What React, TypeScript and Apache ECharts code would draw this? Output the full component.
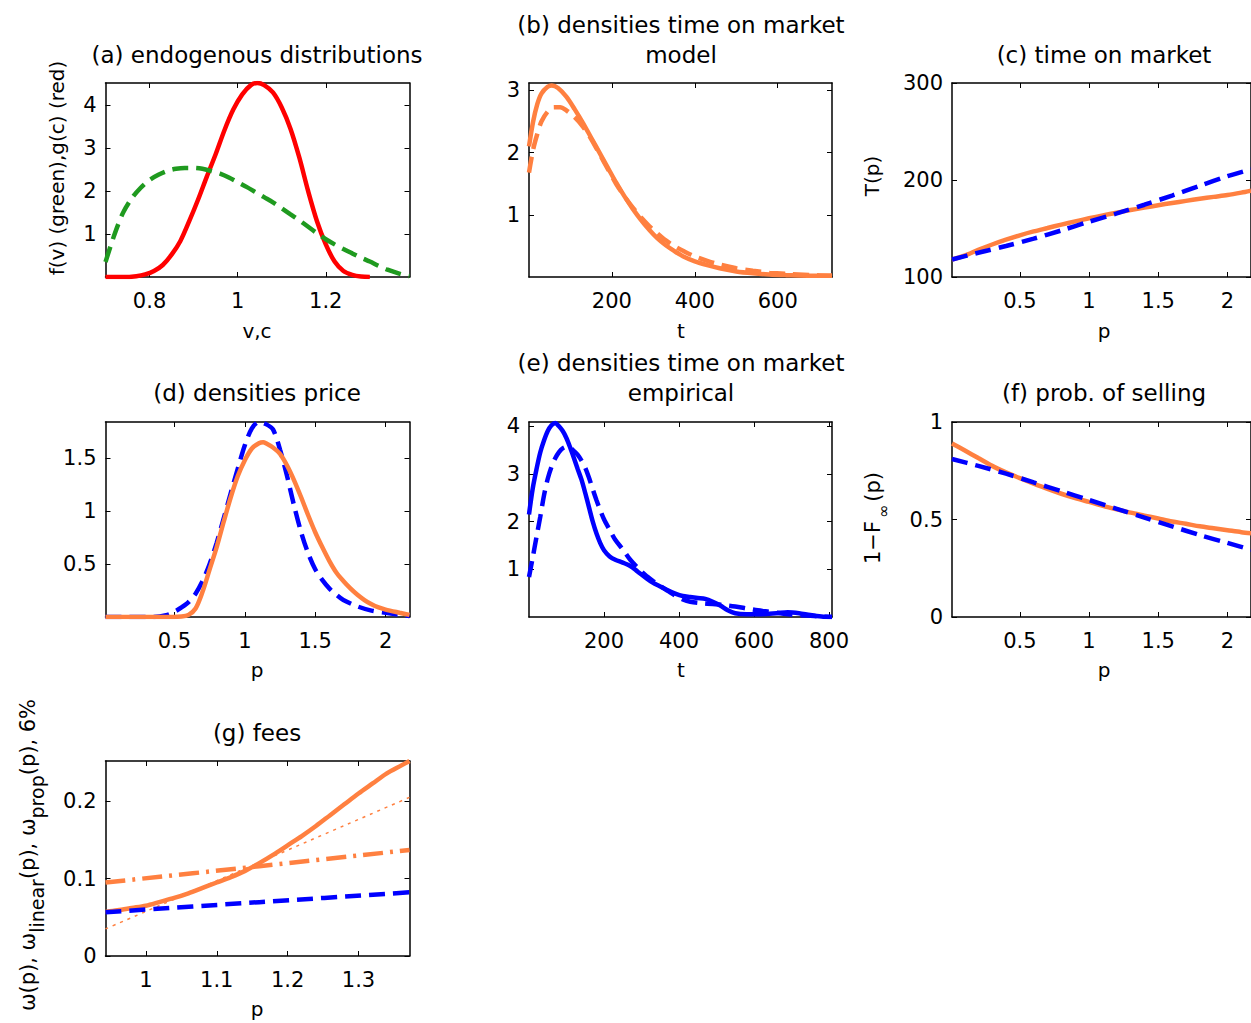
import React, { useEffect, useRef } from "react";
import * as echarts from "echarts";

// ---------------- data ----------------
// (a) endogenous distributions
const aRed: number[][] = [
  [0.70, 0], [0.74, 0], [0.77, 0.02], [0.79, 0.06], [0.81, 0.14], [0.83, 0.28], [0.85, 0.52],
  [0.87, 0.84], [0.89, 1.3], [0.91, 1.8], [0.93, 2.34], [0.95, 2.86], [0.97, 3.42], [0.99, 3.9],
  [1.01, 4.25], [1.03, 4.47], [1.045, 4.52], [1.06, 4.47], [1.08, 4.3], [1.10, 3.95],
  [1.12, 3.45], [1.14, 2.78], [1.16, 2.0], [1.18, 1.3], [1.20, 0.76], [1.22, 0.36],
  [1.24, 0.14], [1.26, 0.05], [1.28, 0.01], [1.30, 0],
];
const aGreen: number[][] = [
  [0.70, 0.35], [0.72, 0.98], [0.74, 1.5], [0.76, 1.84], [0.78, 2.08], [0.80, 2.26], [0.82, 2.38],
  [0.84, 2.47], [0.86, 2.52], [0.88, 2.54], [0.90, 2.54], [0.92, 2.52], [0.94, 2.47], [0.96, 2.41],
  [0.98, 2.32], [1.00, 2.21], [1.02, 2.1], [1.04, 1.98], [1.06, 1.86], [1.08, 1.74], [1.10, 1.6],
  [1.12, 1.46], [1.14, 1.32], [1.16, 1.17], [1.18, 1.02], [1.20, 0.88], [1.22, 0.76], [1.24, 0.65],
  [1.26, 0.55], [1.28, 0.45], [1.30, 0.36], [1.32, 0.26], [1.34, 0.17], [1.36, 0.1], [1.38, 0.04],
  [1.39, 0.02],
];
// (b) densities time on market, model
const bSolid: number[][] = [
  [0, 2.1], [10, 2.5], [20, 2.78], [30, 2.95], [45, 3.06], [55, 3.08], [70, 3.04], [90, 2.9],
  [110, 2.7], [130, 2.48], [150, 2.24], [170, 2.0], [190, 1.76], [210, 1.52], [230, 1.3],
  [250, 1.1], [270, 0.92], [290, 0.76], [310, 0.62], [330, 0.51], [350, 0.42], [375, 0.32],
  [400, 0.25], [430, 0.19], [460, 0.14], [500, 0.09], [540, 0.06], [580, 0.04], [620, 0.03],
  [680, 0.02], [731, 0.02],
];
const bDashed: number[][] = [
  [0, 1.68], [10, 2.05], [20, 2.3], [30, 2.5], [45, 2.66], [60, 2.73], [75, 2.73], [90, 2.68],
  [110, 2.57], [130, 2.42], [150, 2.22], [170, 1.98], [190, 1.74], [210, 1.5], [230, 1.3],
  [250, 1.12], [270, 0.96], [290, 0.82], [310, 0.7], [330, 0.59], [350, 0.5], [375, 0.41],
  [400, 0.33], [430, 0.26], [460, 0.2], [500, 0.14], [540, 0.1], [580, 0.07], [620, 0.05],
  [680, 0.03], [731, 0.02],
];
// (c) time on market
const cSolid: number[][] = [
  [0.01, 118], [0.1, 122], [0.2, 128], [0.3, 133.5], [0.4, 138.5], [0.5, 143], [0.6, 147],
  [0.7, 150.5], [0.8, 154], [0.9, 157.3], [1.0, 160.5], [1.1, 163.5], [1.2, 166.3], [1.3, 169],
  [1.4, 171.5], [1.5, 174], [1.6, 176.3], [1.7, 178.5], [1.8, 180.6], [1.9, 182.6], [2.0, 184.5],
  [2.1, 187], [2.17, 189],
];
const cDashed: number[][] = [
  [0.01, 118], [0.2, 125], [0.4, 132], [0.6, 139.5], [0.8, 148], [1.0, 157], [1.2, 165.5],
  [1.4, 174.5], [1.6, 184], [1.8, 194], [2.0, 204], [2.17, 211],
];
// (d) densities price
const dOrange: number[][] = [
  [0.01, 0], [0.4, 0], [0.55, 0.005], [0.6, 0.02], [0.65, 0.08], [0.7, 0.24], [0.75, 0.45],
  [0.8, 0.66], [0.85, 0.9], [0.9, 1.13], [0.95, 1.33], [1.0, 1.48], [1.05, 1.59], [1.1, 1.64],
  [1.13, 1.65], [1.15, 1.64], [1.2, 1.6], [1.25, 1.54], [1.3, 1.43], [1.35, 1.29], [1.4, 1.13],
  [1.45, 0.96], [1.5, 0.8], [1.55, 0.66], [1.6, 0.53], [1.65, 0.42], [1.7, 0.34], [1.75, 0.27],
  [1.8, 0.21], [1.85, 0.16], [1.9, 0.12], [1.95, 0.09], [2.0, 0.07], [2.1, 0.04], [2.17, 0.02],
];
const dBlue: number[][] = [
  [0.01, 0], [0.35, 0], [0.45, 0.02], [0.5, 0.05], [0.55, 0.09], [0.6, 0.14], [0.65, 0.22],
  [0.7, 0.34], [0.75, 0.5], [0.8, 0.7], [0.85, 0.93], [0.9, 1.17], [0.95, 1.4], [1.0, 1.62],
  [1.05, 1.78], [1.1, 1.84], [1.15, 1.82], [1.2, 1.77], [1.25, 1.58], [1.3, 1.33], [1.35, 1.05],
  [1.4, 0.8], [1.45, 0.6], [1.5, 0.45], [1.55, 0.35], [1.6, 0.27], [1.65, 0.21], [1.7, 0.16],
  [1.8, 0.1], [1.9, 0.06], [2.0, 0.04], [2.1, 0.02], [2.17, 0.01],
];
// (e) densities time on market, empirical
const eSolid: number[][] = [
  [0, 2.15], [10, 2.7], [20, 3.1], [30, 3.45], [40, 3.7], [50, 3.9], [60, 4.02], [70, 4.07],
  [80, 4.0], [90, 3.9], [100, 3.75], [110, 3.55], [120, 3.33], [130, 3.1], [140, 2.88],
  [150, 2.6], [160, 2.3], [170, 2.0], [180, 1.75], [190, 1.55], [200, 1.4], [215, 1.27],
  [230, 1.2], [250, 1.14], [270, 1.07], [290, 0.95], [310, 0.83], [330, 0.72], [350, 0.64],
  [370, 0.56], [390, 0.49], [410, 0.44], [430, 0.42], [450, 0.4], [470, 0.38], [490, 0.32],
  [510, 0.24], [530, 0.14], [550, 0.08], [580, 0.06], [620, 0.06], [660, 0.08], [690, 0.1],
  [720, 0.08], [750, 0.04], [780, 0.01], [808, 0],
];
const eDashed: number[][] = [
  [0, 0.84], [10, 1.25], [20, 1.68], [30, 2.1], [40, 2.55], [50, 2.9], [60, 3.15], [70, 3.33],
  [80, 3.46], [90, 3.54], [100, 3.57], [110, 3.55], [120, 3.48], [130, 3.4], [140, 3.28],
  [150, 3.13], [160, 2.92], [170, 2.68], [180, 2.45], [190, 2.24], [200, 2.05], [215, 1.83],
  [230, 1.62], [250, 1.42], [270, 1.2], [290, 1.03], [310, 0.88], [330, 0.76], [350, 0.65],
  [370, 0.55], [390, 0.45], [410, 0.37], [430, 0.32], [460, 0.29], [490, 0.27], [520, 0.25],
  [550, 0.22], [580, 0.18], [610, 0.14], [640, 0.11], [670, 0.08], [700, 0.05], [740, 0.03],
  [780, 0.01], [808, 0],
];
// (f) prob. of selling
const fSolid: number[][] = [
  [0.01, 0.89], [0.1, 0.855], [0.2, 0.815], [0.3, 0.775], [0.4, 0.742], [0.5, 0.712], [0.6, 0.684],
  [0.7, 0.657], [0.8, 0.632], [0.9, 0.61], [1.0, 0.59], [1.1, 0.57], [1.2, 0.552], [1.3, 0.535],
  [1.4, 0.52], [1.5, 0.505], [1.6, 0.49], [1.7, 0.478], [1.8, 0.465], [1.9, 0.455], [2.0, 0.445],
  [2.1, 0.435], [2.17, 0.43],
];
const fDashed: number[][] = [
  [0.01, 0.81], [0.2, 0.775], [0.4, 0.735], [0.6, 0.69], [0.8, 0.645], [1.0, 0.6], [1.2, 0.555],
  [1.4, 0.51], [1.6, 0.465], [1.8, 0.42], [2.0, 0.38], [2.17, 0.345],
];
// (g) fees
const gOmega: number[][] = [
  [0.943, 0.057], [0.96, 0.059], [0.98, 0.062], [1.0, 0.065], [1.02, 0.07], [1.04, 0.075],
  [1.06, 0.081], [1.08, 0.088], [1.1, 0.095], [1.12, 0.102], [1.14, 0.11], [1.16, 0.12],
  [1.18, 0.131], [1.2, 0.143], [1.22, 0.155], [1.24, 0.168], [1.26, 0.182], [1.28, 0.196],
  [1.3, 0.21], [1.32, 0.223], [1.34, 0.236], [1.36, 0.246], [1.372, 0.252],
];
const gLinear: number[][] = [[0.943, 0.095], [1.16, 0.116], [1.372, 0.137]];
const gProp: number[][] = [[0.943, 0.035], [1.16, 0.121], [1.372, 0.205]];
const gSixPct: number[][] = [[0.943, 0.0566], [1.16, 0.0696], [1.372, 0.0823]];

// axis ranges and ticks
const aX = [0.7, 1.39], aY = [0, 4.52], aXT = [0.8, 1, 1.2], aYT = [1, 2, 3, 4];
const bX = [0, 731], bY = [0, 3.12], bXT = [200, 400, 600], bYT = [1, 2, 3];
const cX = [0.01, 2.17], cY = [100, 300], cXT = [0.5, 1, 1.5, 2], cYT = [100, 200, 300];
const dX = [0.01, 2.17], dY = [0, 1.84], dXT = [0.5, 1, 1.5, 2], dYT = [0.5, 1, 1.5];
const eX = [0, 808], eY = [0, 4.09], eXT = [200, 400, 600, 800], eYT = [1, 2, 3, 4];
const fX = [0.01, 2.17], fY = [0, 1], fXT = [0.5, 1, 1.5, 2], fYT = [0, 0.5, 1];
const gX = [0.943, 1.372], gY = [0, 0.252], gXT = [1, 1.1, 1.2, 1.3], gYT = [0, 0.1, 0.2];

// ---------------- styling ----------------
const FONT = "DejaVu Sans";
const ORANGE = "#ff8040";
const BLUE = "#0000ff";
const RED = "#ff0000";
const GREEN = "#1f9a1f";
const TICK_FS = 21;
const NAME_FS = 20;
const TITLE_FS = 23;
const LW = 4.5;

const rects = [
  { left: 105.5, top: 83, width: 304, height: 194 },
  { left: 529, top: 83, width: 303, height: 194 },
  { left: 952, top: 83, width: 304, height: 194 },
  { left: 105.5, top: 422, width: 304, height: 195 },
  { left: 529, top: 422, width: 303, height: 195 },
  { left: 952, top: 422, width: 304, height: 195 },
  { left: 105.5, top: 761, width: 304, height: 195 },
];

function axisPair(i: number, dim: "x" | "y", r: number[], ticks: number[]) {
  const base = {
    type: "value",
    gridIndex: i,
    min: r[0],
    max: r[1],
    splitLine: { show: false },
    axisLine: { show: true, onZero: false, lineStyle: { color: "#000", width: 1.5 } },
    axisTick: { show: true, inside: true, length: 5, customValues: ticks, lineStyle: { color: "#000", width: 1 } },
  };
  const main = {
    ...base,
    position: dim === "x" ? "bottom" : "left",
    axisLabel: {
      show: true,
      customValues: ticks,
      margin: dim === "x" ? 13 : 9,
      color: "#000",
      fontFamily: FONT,
      fontSize: TICK_FS,
    },
  };
  const other = {
    ...base,
    position: dim === "x" ? "top" : "right",
    axisLabel: { show: false },
  };
  return [main, other];
}

function line(i: number, data: number[][], color: string, width: number, type: any, z = 2) {
  return {
    type: "line",
    xAxisIndex: 2 * i,
    yAxisIndex: 2 * i,
    data,
    symbol: "none",
    showSymbol: false,
    smooth: 0.3,
    silent: true,
    z,
    lineStyle: { color, width, type, cap: "butt" },
  };
}

function txt(x: number, y: number, text: string, fontSize: number, rotate = false, rich?: any) {
  return {
    type: "text",
    x,
    y,
    rotation: rotate ? Math.PI / 2 : 0,
    silent: true,
    style: {
      text,
      fill: "#000",
      fontFamily: FONT,
      fontSize,
      align: "center",
      verticalAlign: "middle",
      textAlign: "center",
      textVerticalAlign: "middle",
      rich,
    },
  };
}

const DASH = [16, 8];
const DASHDOT = [20, 7, 3, 7];

export default function App() {
  const ref = useRef<HTMLDivElement>(null);
  useEffect(() => {
    if (!ref.current) return;
    const chart = echarts.init(ref.current, null, { renderer: "svg" });
    const ranges = [
      [aX, aY, aXT, aYT], [bX, bY, bXT, bYT], [cX, cY, cXT, cYT],
      [dX, dY, dXT, dYT], [eX, eY, eXT, eYT], [fX, fY, fXT, fYT], [gX, gY, gXT, gYT],
    ];
    const xAxis: any[] = [];
    const yAxis: any[] = [];
    ranges.forEach((r, i) => {
      xAxis.push(...axisPair(i, "x", r[0], r[2]));
      yAxis.push(...axisPair(i, "y", r[1], r[3]));
    });
    const nrmF = { fontSize: 21, fontFamily: FONT, fill: "#000", color: "#000" };
    const infF = { fontSize: 16, fontFamily: FONT, padding: [20, 3, 0, 3], fill: "#000", color: "#000" };
    const nrmG = { fontSize: 21, fontFamily: FONT, fill: "#000", color: "#000" };
    const subG = { fontSize: 19, fontFamily: FONT, padding: [17, 0, 0, 0], fill: "#000", color: "#000" };
    const graphic = [
      // titles
      txt(257, 55, "(a) endogenous distributions", TITLE_FS),
      txt(681, 25, "(b) densities time on market", TITLE_FS),
      txt(681, 55, "model", TITLE_FS),
      txt(1104, 55, "(c) time on market", TITLE_FS),
      txt(257, 393, "(d) densities price", TITLE_FS),
      txt(681, 363, "(e) densities time on market", TITLE_FS),
      txt(681, 393, "empirical", TITLE_FS),
      txt(1104, 393, "(f) prob. of selling", TITLE_FS),
      txt(257, 733, "(g) fees", TITLE_FS),
      // x axis names
      txt(257, 331, "v,c", NAME_FS),
      txt(681, 331, "t", NAME_FS),
      txt(1104, 331, "p", NAME_FS),
      txt(257, 670, "p", NAME_FS),
      txt(681, 670, "t", NAME_FS),
      txt(1104, 670, "p", NAME_FS),
      txt(257, 1009, "p", NAME_FS),
      // y axis names
      txt(57, 168, "f(v) (green),g(c) (red)", NAME_FS, true),
      txt(872, 176, "T(p)", NAME_FS, true),
      txt(873, 518, "{n|1\u2212F}{s|\u221e}{n|(p)}", NAME_FS, true, { n: nrmF, s: infF }),
      txt(28, 855, "{n|\u03c9(p), \u03c9}{s|linear}{n|(p), \u03c9}{s|prop}{n|(p), 6%}", NAME_FS, true, { n: nrmG, s: subG }),
    ];
    const series = [
      line(0, aRed, RED, LW, "solid", 2),
      line(0, aGreen, GREEN, LW, DASH, 3),
      line(1, bSolid, ORANGE, LW, "solid", 2),
      line(1, bDashed, ORANGE, LW, DASH, 3),
      line(2, cSolid, ORANGE, LW, "solid", 2),
      line(2, cDashed, BLUE, LW, DASH, 3),
      line(3, dBlue, BLUE, LW, DASH, 2),
      line(3, dOrange, ORANGE, LW, "solid", 3),
      line(4, eSolid, BLUE, LW, "solid", 2),
      line(4, eDashed, BLUE, LW, DASH, 3),
      line(5, fSolid, ORANGE, LW, "solid", 2),
      line(5, fDashed, BLUE, LW, DASH, 3),
      line(6, gOmega, ORANGE, LW, "solid", 2),
      line(6, gLinear, ORANGE, LW, DASHDOT, 3),
      line(6, gProp, ORANGE, 1.5, [3, 5], 3),
      line(6, gSixPct, BLUE, LW, DASH, 4),
    ];
    chart.setOption({
      animation: false,
      backgroundColor: "#fff",
      textStyle: { fontFamily: FONT },
      grid: rects.map((r) => ({ ...r, containLabel: false, show: false })),
      xAxis,
      yAxis,
      series,
      graphic,
    });
    return () => chart.dispose();
  }, []);
  return (
    <div
      ref={ref}
      style={{ position: "absolute", left: 0, top: 0, width: 1251, height: 1023, overflow: "hidden", background: "#fff" }}
    />
  );
}
